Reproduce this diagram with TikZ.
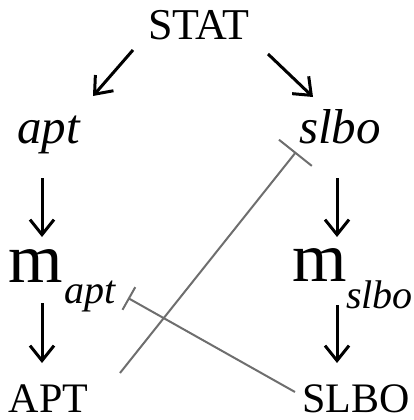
\documentclass[tikz,border=0pt]{standalone}
\usepackage{fontspec}
\setmainfont{Liberation Serif}
\usetikzlibrary{arrows.meta}
\definecolor{inhgray}{HTML}{6E6E6E}
\tikzset{
  lbl/.style={inner sep=0pt, outer sep=0pt, anchor=base west},
  capt/.style={lbl, font=\fontsize{42}{42}\selectfont},
  ital/.style={lbl, font=\fontsize{49}{49}\selectfont\itshape},
  big/.style={lbl, font=\fontsize{70}{70}\selectfont},
  subs/.style={lbl, font=\fontsize{40}{40}\selectfont\itshape},
  arr/.style={line width=3pt, -{Straight Barb[length=15pt,width=24pt]}},
  inh/.style={line width=2pt, draw=inhgray},
}
\begin{document}
\begin{tikzpicture}[x=1pt,y=-1pt]
\useasboundingbox (0,0) rectangle (414,420);
\node[capt, font=\fontsize{44}{44}\selectfont] (stat) at (148,40) {STAT};
\node[ital] (apt) at (17,143) {apt};
\node[ital] (slbo) at (299,143) {slbo};
\node[big] (m1) at (9,282) {m};
\node[subs] (s1) at (64,303) {apt};
\node[big] (m2) at (292,281) {m};
\node[subs] (s2) at (346,308) {slbo};
\node[capt] (APT) at (9,412) {APT};
\node[capt] (SLBO) at (302,412) {SLBO};
% black arrows
\draw[arr] ([shift={(-15,10)}]stat.base west) -- ([shift={(76,-47)}]apt.base west);
\draw[arr] ([shift={(120,14)}]stat.base west) -- ([shift={(14,-46)}]slbo.base west);
\draw[arr] ([shift={(25,35)}]apt.base west) -- ([shift={(33,-45)}]m1.base west);
\draw[arr] ([shift={(38,35)}]slbo.base west) -- ([shift={(45,-44)}]m2.base west);
\draw[arr] ([shift={(33,21)}]m1.base west) -- ([shift={(33,-49)}]APT.base west);
\draw[arr] ([shift={(45,24)}]m2.base west) -- ([shift={(35,-49)}]SLBO.base west);
% inhibition lines
\draw[inh, -{Bar[width=42pt,line width=2pt]}] ([shift={(111,-39)}]APT.base west) -- ([shift={(-3,9)}]slbo.base west);
\draw[inh, -{Bar[width=26pt,line width=2pt]}] ([shift={(-7,-20)}]SLBO.base west) -- ([shift={(64,-5)}]s1.base west);
\end{tikzpicture}
\end{document}
